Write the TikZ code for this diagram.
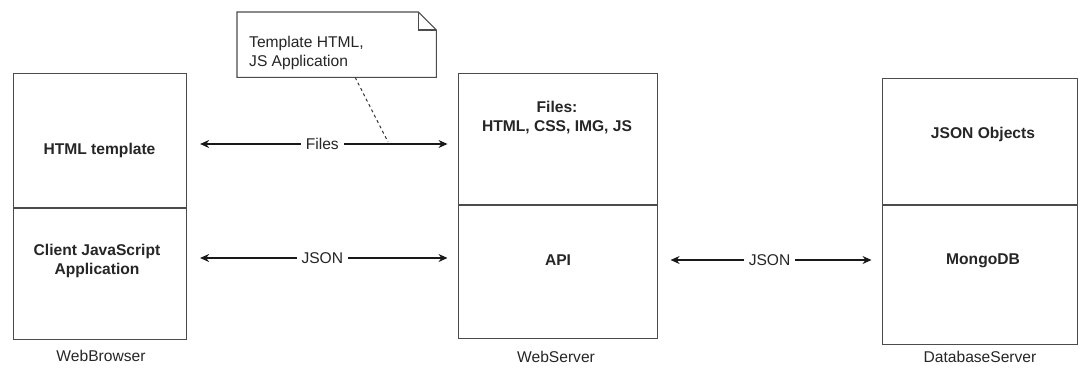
\documentclass[tikz,border=0pt]{standalone}
\usepackage{fontspec}
\setmainfont{Liberation Sans}
\usetikzlibrary{arrows.meta}
\begin{document}
\begin{tikzpicture}[x=1pt,y=-1pt,
  every node/.style={font=\fontsize{15.6}{19}\selectfont, text=black!85, inner sep=0pt},
  part/.style={draw=black!70, line width=1.1pt, fill=white, minimum width=#1},
  title/.style={font=\fontsize{15.6}{19}\selectfont\bfseries, align=center},
  caption/.style={anchor=center},
  conn/.style={draw=black!90, line width=1.1pt, {Stealth[length=9pt,width=8pt]}-{Stealth[length=9pt,width=8pt]}},
  lab/.style={fill=white, inner xsep=5pt, inner ysep=2pt},
  notebox/.style={minimum width=199pt, minimum height=65pt, anchor=north west},
  notelink/.style={draw=black!80, line width=1pt, dash pattern=on 3pt off 3pt}
]
\useasboundingbox (0,0) rectangle (1081,367);

% WebBrowser
\node[part=173pt, minimum height=134pt, anchor=north west] (wbtop) at (13,73) {};
\node[part=173pt, minimum height=131pt, anchor=north west] (wbbot) at (wbtop.south west) {};
\node[title] (wbt1) at (99.5,150) {HTML template};
\node[title] (wbt2) at (97,261) {Client JavaScript\\Application};
\node[caption] (wbcap) at (101,356) {WebBrowser};

% WebServer
\node[part=199pt, minimum height=131pt, anchor=north west] (wstop) at (457.5,73) {};
\node[part=199pt, minimum height=133pt, anchor=north west] (wsbot) at (wstop.south west) {};
\node[title] (wst1) at (557,118) {Files:\\HTML, CSS, IMG, JS};
\node[title] (wst2) at (558,260) {API};
\node[caption] (wscap) at (556,357) {WebServer};

% DatabaseServer
\node[part=195pt, minimum height=126pt, anchor=north west] (dbtop) at (881.5,78) {};
\node[part=195pt, minimum height=139pt, anchor=north west] (dbbot) at (dbtop.south west) {};
\node[title] (dbt1) at (983,134) {JSON Objects};
\node[title] (dbt2) at (983,261) {MongoDB};
\node[caption] (dbcap) at (980,357) {DatabaseServer};

% connectors
\coordinate (yfiles) at (0,144);
\coordinate (yjson) at (0,258);
\coordinate (yjson2) at (0,260);
\draw[conn, shorten <=13pt, shorten >=10pt] (wbtop.east |- yfiles) -- node[lab] (lfiles) {Files} (wstop.west |- yfiles);
\draw[conn, shorten <=13pt, shorten >=10pt] (wbbot.east |- yjson) -- node[lab] (ljson) {JSON} (wsbot.west |- yjson);
\draw[conn, shorten <=13pt, shorten >=10pt] (wsbot.east |- yjson2) -- node[lab] (ljson2) {JSON} (dbbot.west |- yjson2);

% note with folded corner
\node[notebox] (note) at (237,12) {};
\draw[draw=black!70, line width=1.1pt, fill=white]
  (note.north west) -- ([xshift=-18pt]note.north east) -- ([yshift=-18pt]note.north east)
  -- (note.south east) -- (note.south west) -- cycle;
\draw[draw=black!70, line width=1.1pt]
  ([xshift=-18pt]note.north east) -- ([xshift=-18pt,yshift=-18pt]note.north east) -- ([yshift=-18pt]note.north east);
\node[anchor=west, align=left] (notetext) at (249,53) {Template HTML,\\JS Application};
\coordinate (notepin) at (388,142);
\draw[notelink] ([xshift=18.5pt]note.south) -- (notepin);
\end{tikzpicture}
\end{document}
